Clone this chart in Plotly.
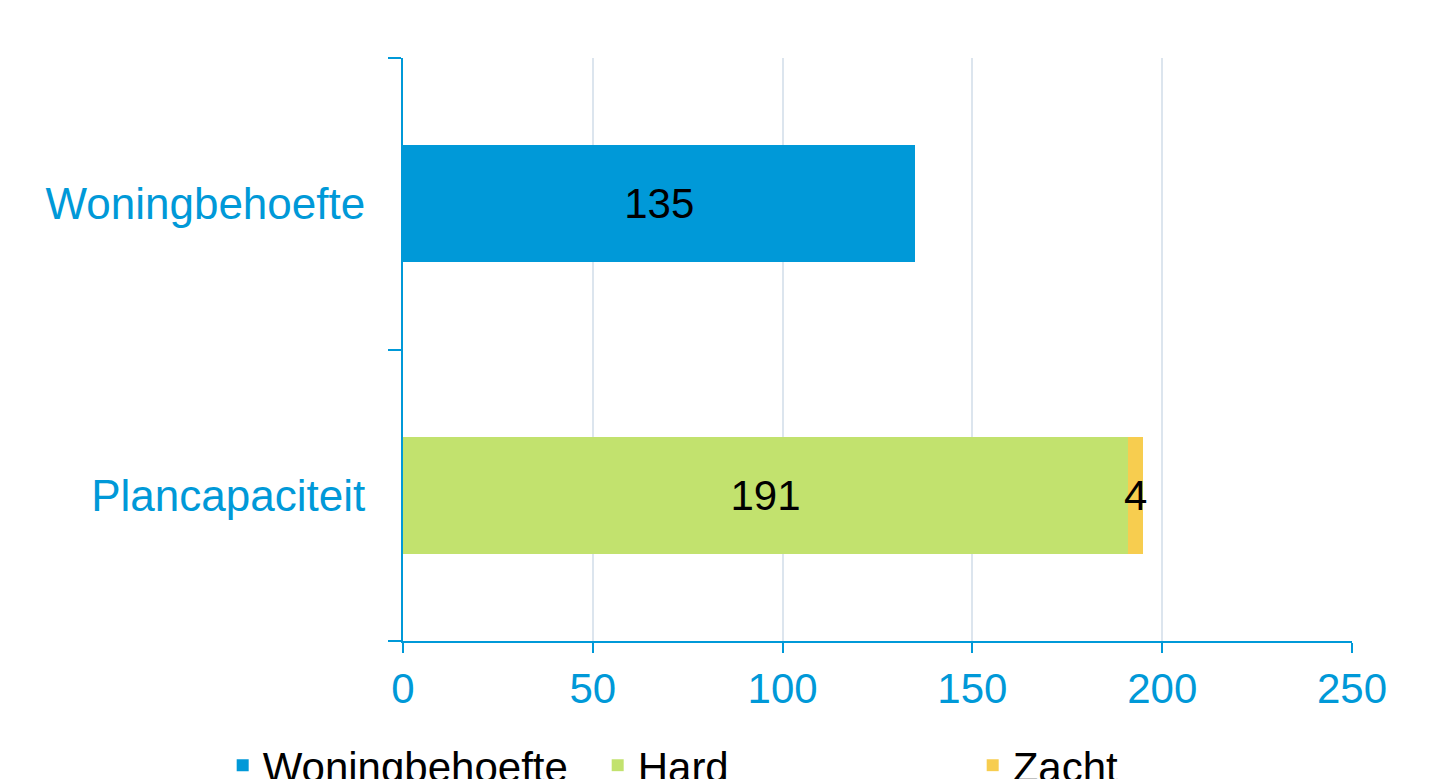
import plotly.graph_objects as go

categories = ["Woningbehoefte", "Plancapaciteit"]
woningbehoefte = [135, None]
hard = [None, 191]
zacht = [None, 4]
x_ticks = [0, 50, 100, 150, 200, 250]

blue = "#0099D8"
font = "Liberation Sans, Arial, sans-serif"

fig = go.Figure()
fig.add_bar(y=categories, x=woningbehoefte, orientation="h", name="Woningbehoefte",
            marker=dict(color=blue, line_width=0), text=["135", ""], textposition="inside",
            insidetextanchor="middle", textfont=dict(color="black", size=42), width=0.4)
fig.add_bar(y=categories, x=hard, orientation="h", name="Hard",
            marker=dict(color="#C2E26E", line_width=0), text=["", "191"], textposition="inside",
            insidetextanchor="middle", textfont=dict(color="black", size=42), width=0.4)
fig.add_bar(y=categories, x=zacht, orientation="h", name="Zacht",
            marker=dict(color="#F7CD4F", line_width=0), textposition="none", width=0.4)
fig.add_annotation(x=hard[1] + zacht[1] / 2, y=categories[1], text=str(zacht[1]),
                   showarrow=False, font=dict(color="black", size=42, family=font))

fig.update_layout(
    barmode="stack", width=1429, height=779,
    margin=dict(l=395, r=85, t=50, b=146, autoexpand=False),
    plot_bgcolor="white", paper_bgcolor="white",
    font=dict(family=font, size=44, color=blue),
    xaxis=dict(range=[0, 250], tickvals=x_ticks, showgrid=True, gridcolor="#DCE5EE", gridwidth=2,
               zeroline=False, showline=True, linecolor=blue, linewidth=2,
               ticks="outside", ticklen=10, tickcolor=blue, tickwidth=2,
               tickfont=dict(color=blue, size=42)),
    yaxis=dict(categoryorder="array", categoryarray=categories[::-1], tickson="boundaries",
               showline=True, linecolor=blue, linewidth=2, ticks="outside", ticklen=13,
               tickcolor=blue, tickwidth=2, showgrid=False, tickfont=dict(color=blue, size=44),
               ticklabelstandoff=27),
    legend=dict(orientation="h", x=-0.19, y=-0.155, xanchor="left", yanchor="top",
                font=dict(color="black", size=42), entrywidth=330, traceorder="normal"),
    showlegend=True,
)
fig.write_html("out.html")
